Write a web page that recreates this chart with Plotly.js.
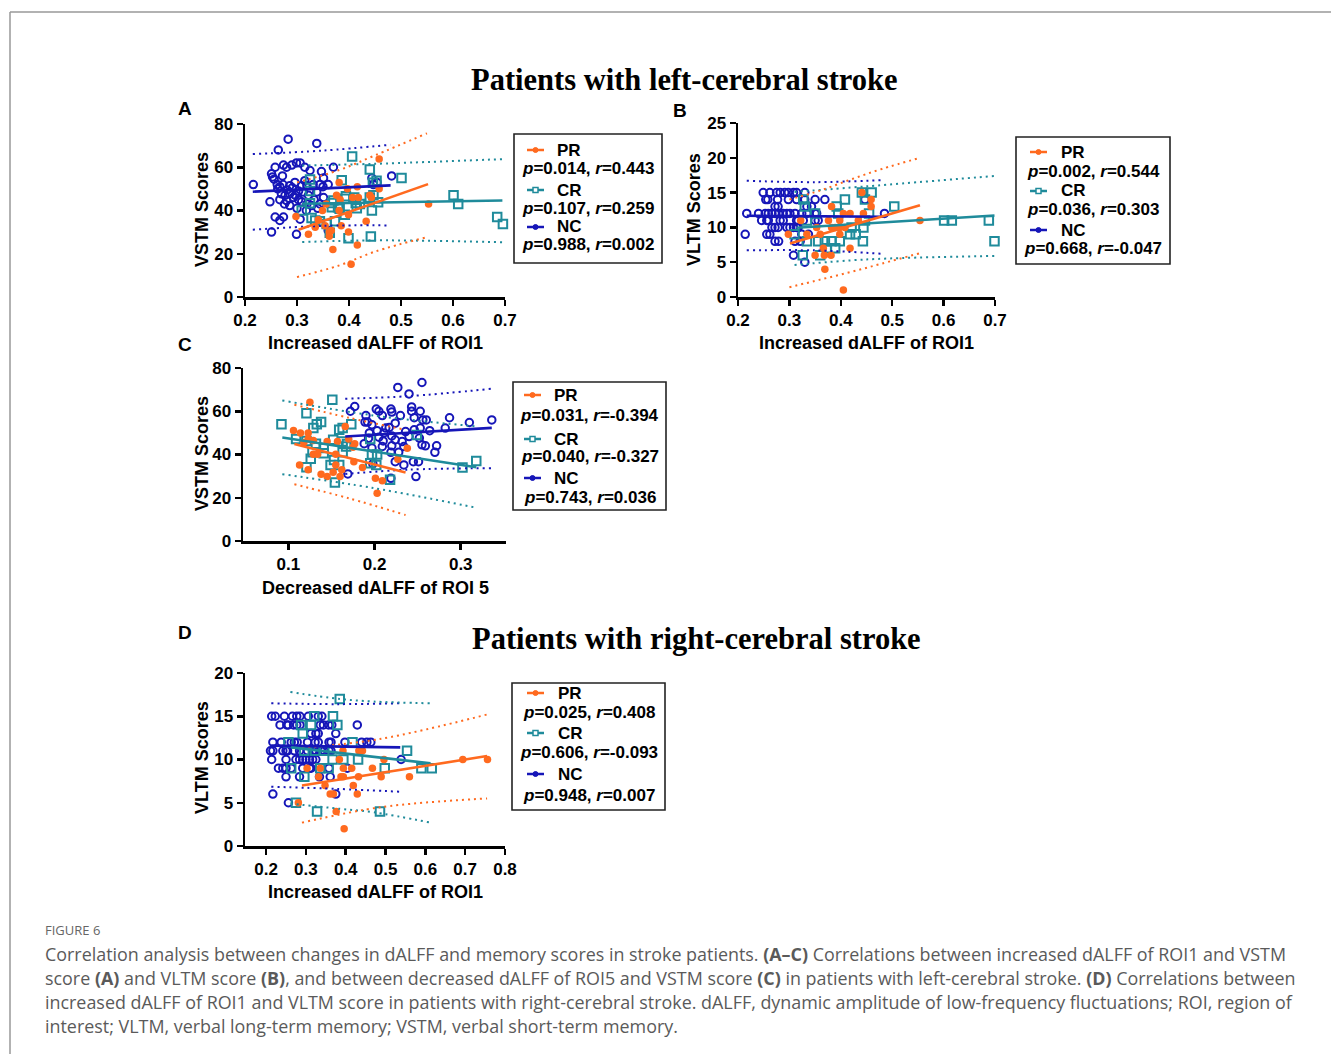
<!DOCTYPE html>
<html><head><meta charset="utf-8">
<script src="https://cdn.plot.ly/plotly-3.0.1.min.js"></script>
<style>html,body{margin:0;padding:0;background:#fff}#chart{width:1331px;height:1054px}</style>
</head><body><div id="chart"></div>
<script>
// ---------------- DATA ----------------
// Panel A: Increased dALFF of ROI1 vs VSTM (left-cerebral)
const A_NC = [[0.216,52],[0.283,73],[0.338,71],[0.264,68],[0.258,60],[0.251,57],[0.253,55.5],[0.256,54.5],[0.274,61],[0.280,60],[0.290,61],[0.299,62],[0.306,62],[0.315,60],[0.325,58.5],[0.347,58],[0.370,60],[0.351,55],[0.272,56],[0.262,52],[0.267,51],[0.273,52],[0.286,51.5],[0.296,53],[0.309,51.5],[0.319,51.5],[0.331,52],[0.344,52],[0.303,49],[0.312,48.5],[0.286,47.7],[0.277,47],[0.270,47.7],[0.267,45],[0.280,44.6],[0.293,46],[0.303,45],[0.309,44],[0.319,43],[0.328,42.3],[0.344,43],[0.248,44],[0.286,42.3],[0.274,37],[0.258,37],[0.267,35.4],[0.251,30],[0.306,36],[0.299,29],[0.360,30.8],[0.351,46],[0.444,55],[0.482,56],[0.447,52],[0.454,53],[0.338,48.5],[0.315,53.8],[0.263,50],[0.281,49.5],[0.291,50.5],[0.297,47],[0.322,47],[0.333,45],[0.300,41],[0.276,43],[0.350,51],[0.360,52],[0.318,40],[0.340,41]];
const A_CR = [[0.406,65],[0.440,59],[0.386,54],[0.325,54.3],[0.501,55],[0.453,53.8],[0.446,52.8],[0.325,49],[0.394,46.6],[0.392,45.4],[0.410,46],[0.440,46],[0.447,47],[0.601,47],[0.610,43],[0.370,44.6],[0.367,43.5],[0.379,41.5],[0.382,40.8],[0.413,43.5],[0.421,43],[0.415,41],[0.456,43.8],[0.444,40],[0.325,43.4],[0.309,40],[0.328,36.5],[0.335,35.4],[0.344,35],[0.357,33.8],[0.373,35],[0.392,38],[0.363,29.7],[0.399,27.2],[0.442,28],[0.685,37],[0.696,33.8],[0.367,41.5]];
const A_PR = [[0.458,63.8],[0.381,53],[0.397,50],[0.416,51],[0.458,50],[0.376,47],[0.383,45],[0.407,46],[0.418,46],[0.440,47],[0.443,46],[0.553,43],[0.356,43],[0.349,40],[0.381,40],[0.399,38],[0.298,37.2],[0.341,35.7],[0.354,33],[0.335,32.3],[0.385,33],[0.433,35],[0.362,30],[0.366,30.8],[0.362,28.1],[0.322,29],[0.399,30],[0.369,22],[0.416,24.1],[0.404,15.1]];
const A_PR_FIT = [[0.303,31.1],[0.552,52.2]];
const A_CR_FIT = [[0.31,43.1],[0.695,44.6]];
const A_NC_FIT = [[0.215,48.7],[0.48,51.6]];
// CI rows: [x, upper, lower]
const A_PR_CI = [[0.30,53,9.2],[0.38,58.6,14.5],[0.45,65.5,21],[0.55,75.7,27.7]];
const A_CR_CI = [[0.31,60.8,25.4],[0.45,61.6,26.2],[0.70,63.8,25.3]];
const A_NC_CI = [[0.215,66.1,31.1],[0.35,67.7,32.9],[0.48,70.4,33.1]];

// Panel B: Increased dALFF of ROI1 vs VLTM (left-cerebral)
const B_NC = [[0.249,15],[0.262,15],[0.275,15],[0.282,15],[0.291,15],[0.298,15],[0.308,15],[0.314,15],[0.330,15],
 [0.254,14],[0.258,14],[0.277,14],[0.298,14],[0.314,14],[0.330,14],[0.350,14],[0.369,14],[0.447,14],
 [0.272,13],[0.278,13],[0.334,13],[0.343,13],
 [0.217,12],[0.240,12],[0.253,12],[0.259,12],[0.266,12],[0.272,12],[0.279,12],[0.288,12],[0.295,12],[0.301,12],[0.311,12],[0.324,12],[0.334,12],[0.350,12],[0.353,12],[0.485,12],
 [0.246,11],[0.256,11],[0.259,11],[0.282,11],[0.288,11],[0.314,11],[0.317,11],[0.327,11],[0.350,11],[0.356,11],
 [0.266,10],[0.272,10],[0.278,10],[0.295,10],[0.301,10],[0.308,10],[0.314,10],[0.317,10],
 [0.214,9],[0.256,9],[0.262,9],[0.324,9],[0.337,9],
 [0.272,8],[0.279,8],[0.311,8],[0.321,8],[0.308,6],[0.330,5]];
const B_CR = [[0.441,15],[0.460,15],[0.408,14],[0.447,14],[0.327,14],[0.330,13],[0.392,13],[0.504,13],[0.350,12],[0.395,12],[0.455,12],[0.334,11],[0.447,11],[0.421,10],[0.444,10],[0.310,9],[0.418,9],[0.429,9],[0.334,8],[0.356,8],[0.369,8],[0.382,8],[0.398,8],[0.443,8],[0.373,7],[0.389,7],[0.360,6],[0.326,6],[0.601,11],[0.616,11],[0.688,11],[0.699,8]];
const B_PR = [[0.441,15],[0.459,14],[0.382,13],[0.459,13],[0.405,12],[0.418,12],[0.444,12],[0.322,11],[0.376,11],[0.398,11],[0.434,11],[0.554,11],[0.382,10],[0.389,10],[0.398,10],[0.408,10],[0.353,10],[0.298,9],[0.334,9],[0.360,9],[0.398,9],[0.366,7],[0.418,7],[0.350,6],[0.368,6],[0.381,6],[0.369,4],[0.405,1]];
const B_PR_FIT = [[0.301,7.7],[0.554,13.2]];
const B_CR_FIT = [[0.314,9.95],[0.699,11.7]];
const B_NC_FIT = [[0.217,11.68],[0.483,11.53]];
const B_PR_CI = [[0.30,14.0,1.4],[0.36,15.3,2.5],[0.42,16.9,3.6],[0.48,18.4,4.8],[0.554,20.0,6.3]];
const B_CR_CI = [[0.31,15.1,4.6],[0.45,15.9,5.4],[0.70,17.4,5.9]];
const B_NC_CI = [[0.217,16.7,6.7],[0.35,16.5,6.7],[0.483,16.8,6.2]];

// Panel C: Decreased dALFF of ROI 5 vs VSTM (left-cerebral)
const C_NC = [[0.255,73.3],[0.227,71],[0.240,68],[0.177,62.2],[0.172,60],[0.202,61],[0.205,60],[0.209,58],[0.219,61],[0.220,59.6],[0.243,62],[0.243,60],[0.253,60],[0.230,58],[0.190,58],[0.246,57],[0.256,56],[0.260,56],[0.287,57],[0.310,54.8],[0.336,56],[0.189,55],[0.192,55],[0.197,53.7],[0.224,54.5],[0.213,52.2],[0.217,52.5],[0.211,50],[0.203,51],[0.194,50],[0.193,47.5],[0.205,48],[0.210,46.3],[0.220,48.6],[0.224,46.8],[0.236,50.6],[0.246,51.4],[0.253,52.2],[0.264,51],[0.282,52.2],[0.240,48.3],[0.252,47.6],[0.255,44.5],[0.259,44],[0.272,44],[0.270,41],[0.232,46],[0.220,44],[0.209,43.7],[0.197,43],[0.188,45],[0.234,43.7],[0.228,41],[0.219,41],[0.224,36.7],[0.234,35.2],[0.245,36.7],[0.251,36.7],[0.248,29.8],[0.219,29],[0.169,31],[0.198,35.7]];
const C_CR = [[0.092,54],[0.151,65.3],[0.121,59.1],[0.129,52.2],[0.133,54],[0.138,55],[0.109,47.2],[0.121,46.3],[0.132,45],[0.141,43],[0.159,51.4],[0.163,52.2],[0.173,54],[0.152,46.8],[0.163,46],[0.141,40.6],[0.128,41],[0.126,38],[0.121,34.1],[0.149,35.2],[0.159,35.2],[0.153,37.5],[0.154,27],[0.163,41],[0.167,43.7],[0.195,47.2],[0.197,40],[0.203,40],[0.195,36],[0.202,35.2],[0.218,28.3],[0.249,49],[0.302,34],[0.318,37],[0.168,44.8]];
const C_PR = [[0.125,64.2],[0.106,51.1],[0.114,49.9],[0.123,49.9],[0.123,47.2],[0.118,45.5],[0.129,46.5],[0.145,46],[0.157,46],[0.166,53],[0.170,47.2],[0.177,45],[0.175,43.4],[0.129,40.1],[0.134,40.1],[0.155,40.1],[0.113,35.2],[0.123,32.9],[0.138,30.9],[0.145,29.8],[0.152,31.8],[0.155,35.2],[0.162,32.9],[0.160,29.8],[0.176,36.7],[0.186,34],[0.201,29],[0.209,27.9],[0.203,22.1],[0.227,37.8],[0.238,42.9]];
const C_PR_FIT = [[0.107,44.9],[0.236,31.7]];
const C_CR_FIT = [[0.093,47.9],[0.318,34.1]];
const C_NC_FIT = [[0.166,48.3],[0.336,52.3]];
const C_PR_CI = [[0.107,63,26.2],[0.17,57,19.8],[0.236,51.4,12]];
const C_CR_CI = [[0.093,65,30.9],[0.2,58,24.4],[0.318,53,15.4]];
const C_NC_CI = [[0.166,65.8,31],[0.24,67,33],[0.336,70.4,33.7]];

// Panel D: Increased dALFF of ROI1 vs VLTM (right-cerebral)
const D_NC = [[0.214,15],[0.223,15],[0.246,15],[0.266,15],[0.277,15],[0.285,15],[0.306,15],[0.331,15],[0.340,15],
 [0.235,14],[0.252,14],[0.256,14],[0.269,14],[0.277,14],[0.285,14],[0.336,14],[0.344,14],[0.357,14],[0.365,14],[0.429,14],
 [0.313,13],[0.325,13],[0.331,13],[0.375,13],
 [0.217,12],[0.238,12],[0.263,12],[0.271,12],[0.278,12],[0.304,12],[0.323,12],[0.331,12],[0.358,12],[0.363,12],[0.398,12],[0.440,12],[0.453,12],[0.463,12],
 [0.211,11],[0.217,11],[0.242,11],[0.250,11],[0.254,11],[0.271,11],[0.284,11],[0.304,11],[0.317,11],[0.321,11],[0.325,11],[0.338,11],[0.346,11],[0.358,11],[0.363,11],
 [0.214,10],[0.250,10],[0.275,10],[0.284,10],[0.292,10],[0.300,10],[0.309,10],[0.317,10],[0.325,10],[0.539,10],
 [0.231,9],[0.242,9],[0.250,9],[0.263,9],[0.292,9],[0.309,9],[0.313,9],[0.358,9],[0.404,9],
 [0.250,8],[0.284,8],[0.334,8],[0.361,8],[0.217,6],[0.375,6],[0.256,5]];
const D_CR = [[0.385,17],[0.321,15],[0.368,15],[0.288,14],[0.313,14],[0.379,14],[0.292,13],[0.256,12],[0.417,12],[0.296,11],[0.323,11],[0.346,11],[0.554,11],[0.367,10],[0.394,10],[0.431,10],[0.263,9],[0.336,9],[0.357,9],[0.498,9],[0.590,9],[0.616,9],[0.296,8],[0.275,5],[0.328,4],[0.486,4]];
const D_PR = [[0.393,11],[0.433,11],[0.442,11],[0.384,10],[0.496,10],[0.694,10],[0.756,10],[0.303,9],[0.336,9],[0.394,9],[0.415,9],[0.467,9],[0.332,8],[0.388,8],[0.394,8],[0.432,8],[0.489,8],[0.560,8],[0.348,7],[0.419,7],[0.361,6],[0.369,6],[0.429,6],[0.281,5],[0.376,4],[0.396,2]];
const D_PR_FIT = [[0.29,7.0],[0.755,10.4]];
const D_CR_FIT = [[0.263,11.4],[0.613,9.55]];
const D_NC_FIT = [[0.213,11.6],[0.537,11.4]];
const D_PR_CI = [[0.29,11.3,2.7],[0.49,12.4,4.5],[0.755,15.2,5.5]];
const D_CR_CI = [[0.261,17.8,4.9],[0.385,17.0,4.3],[0.47,16.7,3.9],[0.613,16.5,2.7]];
const D_NC_CI = [[0.213,16.5,6.85],[0.38,16.4,6.6],[0.537,16.5,6.27]];

// legend statistics
const A_STATS = ['p=0.014, r=0.443','p=0.107, r=0.259','p=0.988, r=0.002'];
const B_STATS = ['p=0.002, r=0.544','p=0.036, r=0.303','p=0.668, r=-0.047'];
const C_STATS = ['p=0.031, r=-0.394','p=0.040, r=-0.327','p=0.743, r=0.036'];
const D_STATS = ['p=0.025, r=0.408','p=0.606, r=-0.093','p=0.948, r=0.007'];
const GROUPS = ['PR','CR','NC'];

// ticks
const X_TICKS_AB = [0.2,0.3,0.4,0.5,0.6,0.7];
const X_TICKS_C = [0.1,0.2,0.3];
const X_TICKS_D = [0.2,0.3,0.4,0.5,0.6,0.7,0.8];
const Y_TICKS_80 = [0,20,40,60,80];
const Y_TICKS_25 = [0,5,10,15,20,25];
const Y_TICKS_20 = [0,5,10,15,20];

// ---------------- DRAW ----------------
const W=1331,H=1054;
const fx=v=>v/W, fy=v=>1-v/H;
const AF='Liberation Sans, Arial, sans-serif';
const COL={PR:'#FF6A1F', CR:'#1F8B9B', NC:'#1616B8'};
const traces=[];

function addPanel(sfx, sets){
  const xa='x'+sfx, ya='y'+sfx;
  ['NC','CR','PR'].forEach(g=>{
    const p=sets[g].pts;
    const m = g==='NC'? {symbol:'circle-open',size:7.5,color:COL.NC,line:{width:2,color:COL.NC}}
            : g==='CR'? {symbol:'square-open',size:8.5,color:COL.CR,line:{width:2,color:COL.CR}}
            : {symbol:'circle',size:7.5,color:COL.PR,line:{width:0}};
    traces.push({type:'scatter',mode:'markers',xaxis:xa,yaxis:ya,x:p.map(d=>d[0]),y:p.map(d=>d[1]),marker:m,cliponaxis:false,hoverinfo:'skip'});
  });
  ['NC','CR','PR'].forEach(g=>{
    const ci=sets[g].ci, c=COL[g];
    traces.push({type:'scatter',mode:'lines',xaxis:xa,yaxis:ya,x:ci.map(d=>d[0]),y:ci.map(d=>d[1]),line:{color:c,width:2,dash:'2px,4px',shape:'spline'},hoverinfo:'skip'});
    traces.push({type:'scatter',mode:'lines',xaxis:xa,yaxis:ya,x:ci.map(d=>d[0]),y:ci.map(d=>d[2]),line:{color:c,width:2,dash:'2px,4px',shape:'spline'},hoverinfo:'skip'});
  });
  ['NC','CR','PR'].forEach(g=>{
    const f=sets[g].fit;
    traces.push({type:'scatter',mode:'lines',xaxis:xa,yaxis:ya,x:f.map(d=>d[0]),y:f.map(d=>d[1]),line:{color:COL[g],width:2.6},hoverinfo:'skip'});
  });
}
addPanel('', {PR:{pts:A_PR,fit:A_PR_FIT,ci:A_PR_CI},CR:{pts:A_CR,fit:A_CR_FIT,ci:A_CR_CI},NC:{pts:A_NC,fit:A_NC_FIT,ci:A_NC_CI}});
addPanel('2',{PR:{pts:B_PR,fit:B_PR_FIT,ci:B_PR_CI},CR:{pts:B_CR,fit:B_CR_FIT,ci:B_CR_CI},NC:{pts:B_NC,fit:B_NC_FIT,ci:B_NC_CI}});
addPanel('3',{PR:{pts:C_PR,fit:C_PR_FIT,ci:C_PR_CI},CR:{pts:C_CR,fit:C_CR_FIT,ci:C_CR_CI},NC:{pts:C_NC,fit:C_NC_FIT,ci:C_NC_CI}});
addPanel('4',{PR:{pts:D_PR,fit:D_PR_FIT,ci:D_PR_CI},CR:{pts:D_CR,fit:D_CR_FIT,ci:D_CR_CI},NC:{pts:D_NC,fit:D_NC_FIT,ci:D_NC_CI}});

const tf={family:AF,size:17,color:'#000',weight:700};
function xax(d0,d1,range,tv,anchor){return {domain:[fx(d0),fx(d1)],range,tickvals:tv,ticktext:tv.map(v=>v.toFixed(1)),anchor,showline:true,linewidth:2.5,linecolor:'#000',ticks:'outside',ticklen:6,tickwidth:2.5,tickcolor:'#000',showgrid:false,zeroline:false,tickfont:tf,fixedrange:true};}
function yax(t,b,range,tv,anchor){return {domain:[fy(b),fy(t)],range,tickvals:tv,ticktext:tv.map(String),anchor,showline:true,linewidth:2.5,linecolor:'#000',ticks:'outside',ticklen:6,tickwidth:2.5,tickcolor:'#000',showgrid:false,zeroline:false,tickfont:tf,fixedrange:true};}

const ann=[], shapes=[];
function txt(x,y,t,o){ann.push(Object.assign({xref:'paper',yref:'paper',x:fx(x),y:fy(y),text:t,showarrow:false,xanchor:'center',yanchor:'middle',font:{family:AF,size:18,color:'#000',weight:700}},o||{}));}

// titles
const SERIF='Liberation Serif, Times New Roman, serif';
txt(684,80,'Patients with left-cerebral stroke',{font:{family:SERIF,size:30.5,color:'#000',weight:700}});
txt(696,639,'Patients with right-cerebral stroke',{font:{family:SERIF,size:30.5,color:'#000',weight:700}});
// panel letters
[['A',185,109],['B',680,110],['C',185,344],['D',185,632]].forEach(d=>txt(d[1],d[2],d[0],{font:{family:AF,size:19,color:'#000',weight:700}}));
// axis titles
txt(375,343,'Increased dALFF of ROI1');
txt(866,343,'Increased dALFF of ROI1');
txt(375,588,'Decreased dALFF of ROI 5');
txt(375,892,'Increased dALFF of ROI1');
txt(202,210,'VSTM Scores',{textangle:-90});
txt(694,210,'VLTM Scores',{textangle:-90});
txt(202,454,'VSTM Scores',{textangle:-90});
txt(202,758,'VLTM Scores',{textangle:-90});

// legends
function legend(box,sx,lx,rows,stats){
  shapes.push({type:'rect',xref:'paper',yref:'paper',x0:fx(box[0]),x1:fx(box[2]),y0:fy(box[1]),y1:fy(box[3]),line:{color:'#222',width:1.6}});
  const cx=(box[0]+box[2])/2;
  GROUPS.forEach((g,i)=>{
    const ly=rows[i][0], ty=rows[i][1], c=COL[g];
    shapes.push({type:'line',xref:'paper',yref:'paper',x0:fx(sx[0]),x1:fx(sx[1]),y0:fy(ly),y1:fy(ly),line:{color:c,width:2.5}});
    const mx=(sx[0]+sx[1])/2;
    if(g==='CR') shapes.push({type:'rect',xref:'paper',yref:'paper',x0:fx(mx-2.5),x1:fx(mx+2.5),y0:fy(ly+2.5),y1:fy(ly-2.5),line:{color:c,width:1.5},fillcolor:'#fff'});
    else shapes.push({type:'circle',xref:'paper',yref:'paper',x0:fx(mx-2.5),x1:fx(mx+2.5),y0:fy(ly+2.5),y1:fy(ly-2.5),line:{color:c,width:1},fillcolor:c});
    txt(lx,ly,g,{xanchor:'left',font:{family:AF,size:17,color:'#000',weight:700}});
    const s=stats[i].replace('p=','<i>p</i>=').replace('r=','<i>r</i>=');
    txt(cx,ty,s,{font:{family:AF,size:17,color:'#000',weight:700}});
  });
}
legend([514,134,662,263],[527,544],555,[[150,168],[190,209],[227,245]],A_STATS);
legend([1016,137,1170,264],[1030,1047],1059,[[152,171],[191,210],[230,249]],B_STATS);
legend([513,382,666,510],[524,541],552,[[395,415],[439,456],[478,497]],C_STATS);
legend([512,683,665,810],[527,544],556,[[693,712],[733,752],[774,795]],D_STATS);

// frame
shapes.push({type:'line',xref:'paper',yref:'paper',x0:fx(10),x1:1,y0:fy(12),y1:fy(12),line:{color:'#999',width:1.5}});
shapes.push({type:'line',xref:'paper',yref:'paper',x0:fx(10),x1:fx(10),y0:fy(12),y1:0,line:{color:'#999',width:1.5}});

// caption
const CAP_FONT='Open Sans, Noto Sans, sans-serif';
txt(43,930,'FIGURE 6',{xanchor:'left',font:{family:CAP_FONT,size:13,color:'#666',weight:400}});
const CAPTION=[
 'Correlation analysis between changes in dALFF and memory scores in stroke patients. <b>(A–C)</b> Correlations between increased dALFF of ROI1 and VSTM',
 'score <b>(A)</b> and VLTM score <b>(B)</b>, and between decreased dALFF of ROI5 and VSTM score <b>(C)</b> in patients with left-cerebral stroke. <b>(D)</b> Correlations between',
 'increased dALFF of ROI1 and VLTM score in patients with right-cerebral stroke. dALFF, dynamic amplitude of low-frequency fluctuations; ROI, region of',
 'interest; VLTM, verbal long-term memory; VSTM, verbal short-term memory.'];
CAPTION.forEach((t,i)=>txt(43,954+24*i,t,{xanchor:'left',font:{family:CAP_FONT,size:17.9,color:'#5a5a5a',weight:400}}));

const layout={width:W,height:H,margin:{l:0,r:0,t:0,b:0},paper_bgcolor:'#fff',plot_bgcolor:'rgba(0,0,0,0)',showlegend:false,
 xaxis:xax(245,505,[0.2,0.7],X_TICKS_AB,'y'), yaxis:yax(124,297,[0,80],Y_TICKS_80,'x'),
 xaxis2:xax(738,995,[0.2,0.7],X_TICKS_AB,'y2'), yaxis2:yax(123,297,[0,25],Y_TICKS_25,'x2'),
 xaxis3:xax(243,506,[0.0474,0.3525],X_TICKS_C,'y3'), yaxis3:yax(368,541,[0,80],Y_TICKS_80,'x3'),
 xaxis4:xax(245,505,[0.147,0.8],X_TICKS_D,'y4'), yaxis4:yax(673,846,[0,20],Y_TICKS_20,'x4'),
 annotations:ann, shapes:shapes};
Plotly.newPlot('chart',traces,layout,{staticPlot:true,displayModeBar:false});
</script></body></html>
